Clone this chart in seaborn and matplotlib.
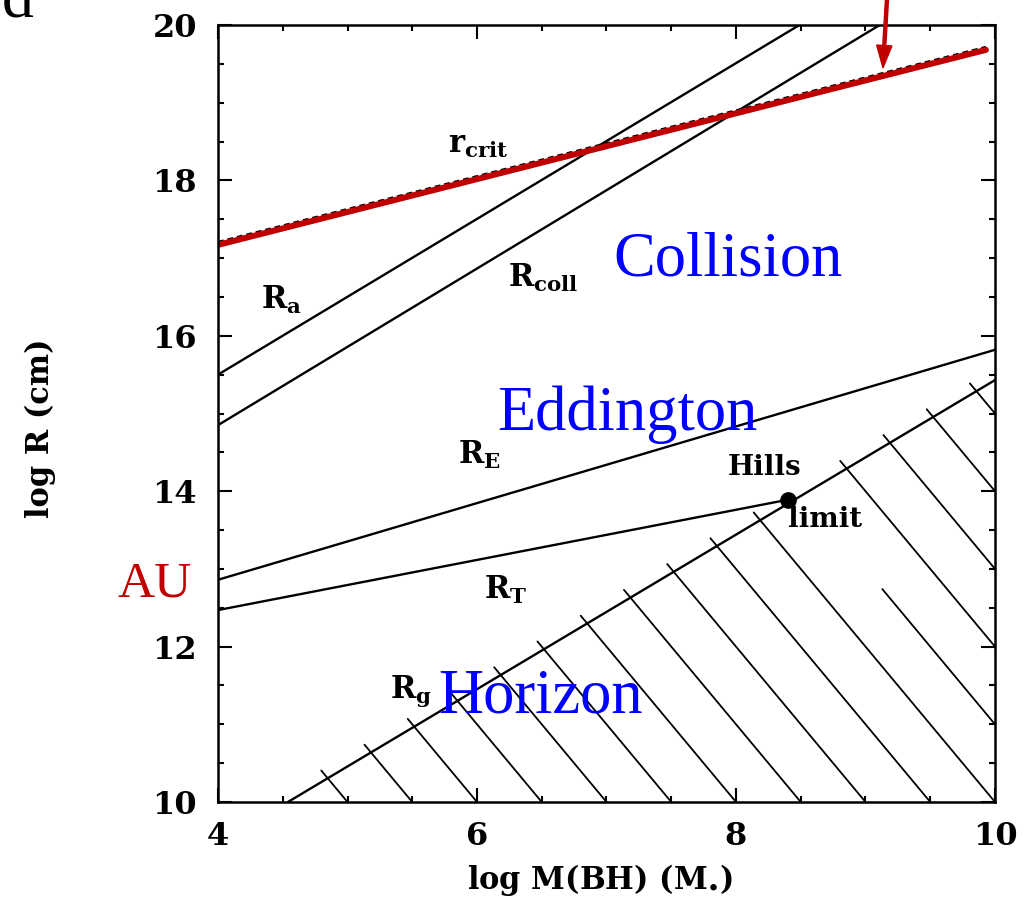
import numpy as np
import pandas as pd
import matplotlib
matplotlib.use("Agg")
import matplotlib.pyplot as plt
from matplotlib.ticker import MultipleLocator
import seaborn as sns

# ---------------- data ----------------
ra_x, ra_y = [4.0, 8.49], [15.50, 20.0]          # R_a
rcoll_x, rcoll_y = [4.0, 9.11], [14.85, 20.0]    # R_coll
rcrit_x, rcrit_y = [4.0, 9.93], [17.17, 19.68]   # r_crit (red)
re_x, re_y = [4.0, 10.0], [12.86, 15.82]         # R_E
rt_x, rt_y = [4.0, 8.40], [12.47, 13.89]         # R_T
rg_x, rg_y = [4.54, 10.0], [10.0, 15.43]         # R_g (horizon)
hills_x, hills_y = [8.40], [13.89]               # Hills limit point

hatch_bottom_x = [5.0, 5.5, 6.0, 6.5, 7.0, 7.5, 8.0, 8.5, 9.0, 9.5, 10.0]
hatch_right_y = [11.0, 12.0, 13.0, 14.0, 15.0]
hatch_slope = -2.0

xticks = [4, 6, 8, 10]
yticks = [10, 12, 14, 16, 18, 20]

# ---------------- style ----------------
sns.set_style("ticks")
plt.rcParams["font.family"] = ["DejaVu Serif"]
plt.rcParams["mathtext.default"] = "regular"
plt.rcParams["text.color"] = "black"
plt.rcParams["axes.labelcolor"] = "black"
plt.rcParams["xtick.color"] = "black"
plt.rcParams["ytick.color"] = "black"

fig = plt.figure(figsize=(10.27, 9.0), dpi=100)
ax = fig.add_axes([218 / 1027, 1 - 802 / 900, (995 - 218) / 1027, (802 - 25) / 900])

RED = "#C00000"
BLUE = "#0000FF"

# main curves
for xs, ys in [(ra_x, ra_y), (rcoll_x, rcoll_y), (re_x, re_y), (rt_x, rt_y), (rg_x, rg_y)]:
    sns.lineplot(x=xs, y=ys, ax=ax, color="black", lw=1.7)

# original dashed r_crit under the red line
ax.plot(rcrit_x, np.array(rcrit_y) + 0.04, color="black", lw=1.4, ls=(0, (3, 2)))
sns.lineplot(x=rcrit_x, y=rcrit_y, ax=ax, color=RED, lw=4.3)

# Hills point
ax.plot(hills_x, hills_y, "o", color="black", ms=11)

# hatching below the horizon line
g_slope = (rg_y[1] - rg_y[0]) / (rg_x[1] - rg_x[0])
def horizon_hit(x_end, y_end):
    xh = (y_end - hatch_slope * x_end - rg_y[0] + g_slope * rg_x[0]) / (g_slope - hatch_slope)
    yh = rg_y[0] + g_slope * (xh - rg_x[0])
    return xh, yh

ext = 0.05
for xb in hatch_bottom_x:
    xh, yh = horizon_hit(xb, 10.0)
    ax.plot([xh - ext, xb], [yh - hatch_slope * ext, 10.0], color="black", lw=1.3)
for yr in hatch_right_y:
    xh, yh = horizon_hit(10.0, yr)
    if yr == 11.0:
        xs0 = 9.13  # segment partly hidden behind the "limit" label
        ax.plot([xs0, 10.0], [yr + hatch_slope * (xs0 - 10.0), yr], color="black", lw=1.3)
    else:
        ax.plot([xh - ext, 10.0], [yh - hatch_slope * ext, yr], color="black", lw=1.3)

# axes
ax.set_xlim(4, 10)
ax.set_ylim(10, 20)
ax.set_xticks(xticks)
ax.set_yticks(yticks)
ax.xaxis.set_minor_locator(MultipleLocator(0.5))
ax.yaxis.set_minor_locator(MultipleLocator(0.5))
ax.tick_params(which="both", direction="in", top=True, right=True, width=1.5,
               colors="black", labelcolor="black")
ax.tick_params(which="major", length=10, labelsize=23)
ax.tick_params(which="minor", length=4)
ax.tick_params(axis="x", which="major", pad=14)
ax.tick_params(axis="y", which="major", pad=15)
for lbl in ax.get_xticklabels() + ax.get_yticklabels():
    lbl.set_fontweight("bold")
for s in ax.spines.values():
    s.set_linewidth(1.8)
    s.set_color("black")
ax.set_xlabel("")
ax.set_ylabel("")

fig.text(600 / 1027, 1 - 880 / 900, r"log M(BH) (M$_{\bullet}$)", ha="center", va="center",
         fontsize=22, color="black", fontweight="bold")
fig.text(40 / 1027, 1 - 428 / 900, "log R (cm)", ha="center", va="center", fontsize=22,
         rotation=90, color="black", fontweight="bold")

# curve labels
lab = dict(ha="center", va="center", fontsize=22, color="black", fontweight="bold")
ax.text(6.01, 18.46, r"r$_{crit}$", **lab)
ax.text(4.49, 16.46, r"R$_{a}$", **lab)
ax.text(6.51, 16.74, r"R$_{coll}$", **lab)
ax.text(6.02, 14.47, r"R$_{E}$", **lab)
ax.text(6.22, 12.73, r"R$_{T}$", **lab)
ax.text(5.49, 11.42, r"R$_{g}$", **lab)
ax.text(8.22, 14.30, "Hills", ha="center", va="center", fontsize=20, color="black", fontweight="bold")
ax.text(8.69, 13.63, "limit", ha="center", va="center", fontsize=20, color="black", fontweight="bold")

# overlay annotations
big = dict(ha="center", va="baseline", fontsize=45, family="Liberation Serif", color=BLUE)
ax.text(7.94, 16.77, "Collision", **big)
ax.text(7.16, 14.79, "Eddington", **big)
ax.text(6.49, 11.15, "Horizon", **big)
ax.text(3.51, 12.64, "AU", ha="center", va="baseline", fontsize=37, family="Liberation Serif",
        color=RED, clip_on=False)

# red arrow from above
ax.annotate("", xy=(9.135, 19.45), xytext=(9.166, 20.33), xycoords="data", textcoords="data",
            arrowprops=dict(facecolor=RED, edgecolor=RED, width=2.2, headwidth=11, headlength=16),
            annotation_clip=False)

# partial letter at top-left (cut off by the top edge, as in the reference)
fig.text(34 / 1027, 1 - 18 / 900, "d", ha="right", va="baseline", fontsize=46,
         family="Liberation Serif", color="black")

fig.savefig("out.png", dpi=100)
